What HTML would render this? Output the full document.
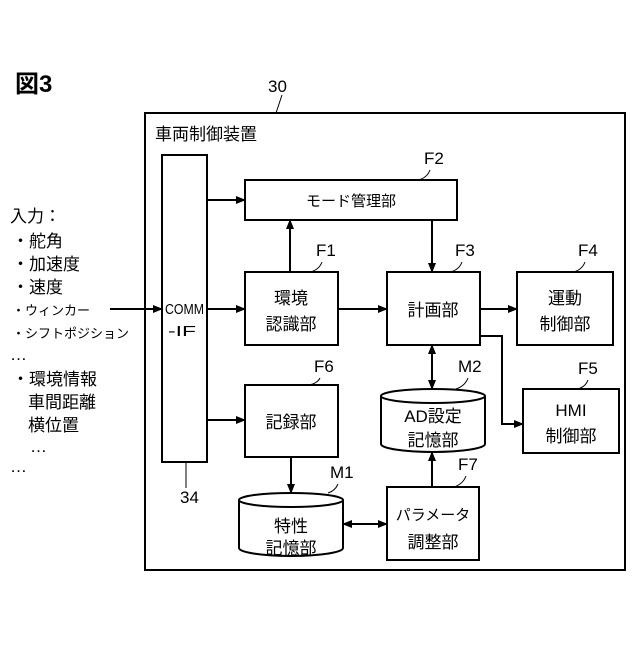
<!DOCTYPE html>
<html><head><meta charset="utf-8"><style>body{margin:0;background:#fff}</style></head><body>
<svg width="640" height="640" viewBox="0 0 640 640" xmlns="http://www.w3.org/2000/svg" font-family="Liberation Sans, Noto Sans CJK JP, sans-serif" fill="none" stroke="#000" stroke-width="2">
<defs><marker id="a" markerWidth="10" markerHeight="10" refX="9" refY="5" orient="auto-start-reverse" markerUnits="userSpaceOnUse"><path d="M0,1 L10,5 L0,9z" fill="#000" stroke="none"/></marker></defs>
<g fill="#000" stroke="none" font-size="17">
<text x="15" y="92" font-size="24" font-weight="bold">図3</text>
<text x="268" y="92">30</text>
<text x="155" y="140">車両制御装置</text>
<text x="10" y="222">入力：</text>
<text x="12" y="247">・舵角</text>
<text x="12" y="270">・加速度</text>
<text x="12" y="293">・速度</text>
<text x="12" y="315" font-size="13">・ウィンカー</text>
<text x="12" y="338" font-size="13">・シフトポジション</text>
<text x="10" y="360">…</text>
<text x="12" y="385">・環境情報</text>
<text x="28" y="408">車間距離</text>
<text x="28" y="431">横位置</text>
<text x="30" y="452">…</text>
<text x="10" y="472">…</text>
<text x="165" y="314" font-size="15" textLength="39" lengthAdjust="spacingAndGlyphs">COMM</text>
<text x="168" y="336" font-size="15" textLength="28" lengthAdjust="spacingAndGlyphs">-IF</text>
<text x="180" y="503">34</text>
<text x="351" y="206" text-anchor="middle" font-size="15">モード管理部</text>
<text x="291" y="304" text-anchor="middle">環境</text>
<text x="291" y="330" text-anchor="middle">認識部</text>
<text x="433" y="316" text-anchor="middle">計画部</text>
<text x="565" y="304" text-anchor="middle">運動</text>
<text x="565" y="330" text-anchor="middle">制御部</text>
<text x="291" y="428" text-anchor="middle">記録部</text>
<text x="433" y="422" text-anchor="middle">AD設定</text>
<text x="433" y="446" text-anchor="middle">記憶部</text>
<text x="571" y="416" text-anchor="middle">HMI</text>
<text x="571" y="442" text-anchor="middle">制御部</text>
<text x="291" y="532" text-anchor="middle">特性</text>
<text x="291" y="554" text-anchor="middle">記憶部</text>
<text x="433" y="520" text-anchor="middle" font-size="15">パラメータ</text>
<text x="433" y="548" text-anchor="middle">調整部</text>
<text x="424" y="164">F2</text><text x="316" y="256">F1</text><text x="455" y="256">F3</text>
<text x="578" y="256">F4</text><text x="578" y="374">F5</text><text x="314" y="372">F6</text>
<text x="458" y="372">M2</text><text x="330" y="478">M1</text><text x="458" y="470">F7</text>
</g>
<rect x="145" y="113" width="480" height="457"/>
<rect x="162" y="155" width="45" height="307"/>
<rect x="245" y="180" width="212" height="40"/>
<rect x="245" y="272" width="93" height="73"/>
<rect x="387" y="272" width="93" height="73"/>
<rect x="517" y="272" width="96" height="73"/>
<rect x="245" y="385" width="93" height="72"/>
<rect x="523" y="389" width="96" height="64"/>
<rect x="387" y="487" width="92" height="73"/>
<path d="M381,396 V444 A52,8 0 0 0 485,444 V396 A52,7 0 0 0 381,396 A52,7 0 0 0 485,396"/>
<path d="M239,500 V548 A52,8 0 0 0 343,548 V500 A52,7 0 0 0 239,500 A52,7 0 0 0 343,500"/>
<g marker-end="url(#a)">
<path d="M110,309 H162"/><path d="M207,200 H245"/><path d="M207,309 H245"/><path d="M207,420 H245"/>
<path d="M290,272 V220"/><path d="M432,220 V272"/><path d="M338,309 H387"/><path d="M480,309 H517"/>
<path d="M480,336 H502 V424 H523"/><path d="M291,457 V493"/><path d="M432,487 V452"/>
<path d="M432,389 V345" marker-start="url(#a)"/><path d="M343,524 H387" marker-start="url(#a)"/>
</g>
<g stroke-width="1">
<path d="M282,95 L276,113"/><path d="M430,170 q-3,8 -12,10"/><path d="M322,262 q-3,8 -12,10"/>
<path d="M462,262 q-3,8 -12,10"/><path d="M585,262 q-3,8 -12,10"/><path d="M588,380 q-3,8 -12,9"/>
<path d="M320,378 q-3,6 -12,7"/><path d="M468,378 q-3,8 -12,11"/><path d="M338,484 q-3,7 -10,9"/>
<path d="M466,476 q-3,8 -12,11"/><path d="M186,462 L186,488"/>
</g>
</svg>
</body></html>
